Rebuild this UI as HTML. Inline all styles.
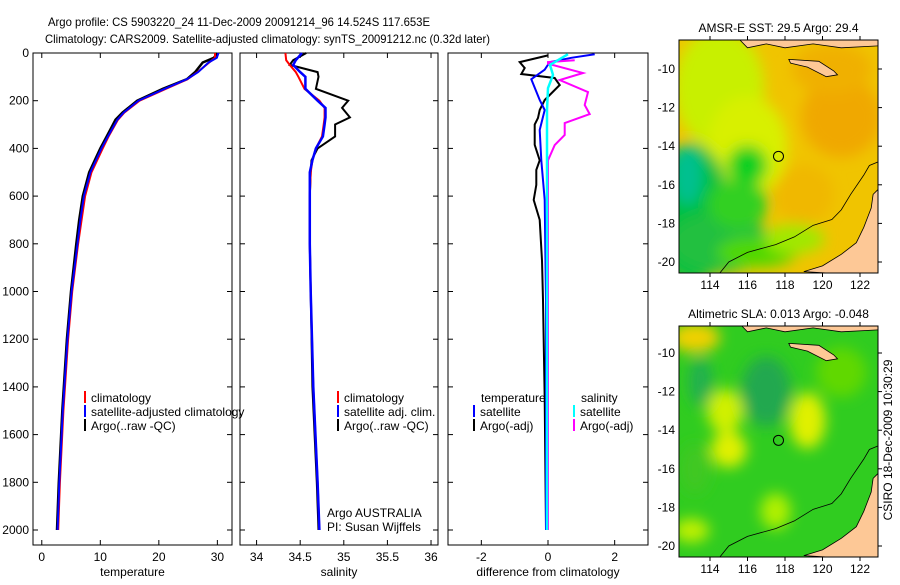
<!DOCTYPE html>
<html><head><meta charset="utf-8"><style>
body{margin:0;background:#fff;width:900px;height:580px;overflow:hidden}
svg text{font-family:"Liberation Sans",sans-serif;font-size:12px;fill:#000}
</style></head><body>
<svg id="c" width="900" height="580" xmlns="http://www.w3.org/2000/svg">
<text x="48" y="26" textLength="382" lengthAdjust="spacingAndGlyphs">Argo profile: CS 5903220_24 11-Dec-2009 20091214_96 14.524S 117.653E</text>
<text x="45" y="43" textLength="445" lengthAdjust="spacingAndGlyphs">Climatology: CARS2009. Satellite-adjusted climatology: synTS_20091212.nc (0.32d later)</text>
<text x="892" y="440" text-anchor="middle" transform="rotate(-90 892 440)">CSIRO 18-Dec-2009 10:30:29</text>
</svg>
<script>
const NS='http://www.w3.org/2000/svg';
const svg=document.getElementById('c');
// ---- data ----
const tempDepth=[0,20,40,80,110,150,200,250,280,350,400,500,600,700,800,1000,1200,1500,1800,2000];
const tempClim=[29.6,29.6,28.6,26.6,24.9,21.2,16.7,14.1,13.0,11.4,10.4,8.5,7.4,6.8,6.2,5.2,4.5,3.7,3.1,2.8];
const tempSat=[30.2,29.9,28.5,26.7,24.8,21.0,16.5,14.0,12.9,11.3,10.2,8.3,7.2,6.6,6.1,5.1,4.4,3.6,3.0,2.7];
const tempArgo=[30.0,29.4,27.5,26.2,24.8,20.7,16.3,13.8,12.6,11.1,10.0,8.1,7.0,6.4,5.9,5.0,4.3,3.5,2.9,2.6];
const salDepth=[0,30,50,80,100,150,200,230,270,300,350,400,450,500,600,800,1000,1400,1800,2000];
const salClim=[34.33,34.34,34.38,34.45,34.48,34.55,34.72,34.78,34.78,34.77,34.75,34.68,34.64,34.62,34.61,34.61,34.62,34.65,34.70,34.72];
const salSat=[34.52,34.45,34.42,34.50,34.56,34.56,34.70,34.79,34.79,34.78,34.76,34.68,34.64,34.61,34.61,34.61,34.62,34.65,34.70,34.72];
const salArgo=[34.57,34.42,34.38,34.70,34.71,34.68,35.05,34.98,35.07,34.90,34.90,34.70,34.63,34.62,34.61,34.61,34.62,34.64,34.69,34.71];
const dTempArgoD=[10,38,63,88,105,134,197,239,272,300,385,450,490,553,616,700,870,1036,1450,2000];
const dTempArgo=[0,-0.85,-0.7,-0.8,0.2,0.35,-0.1,-0.25,-0.3,-0.4,-0.4,-0.25,-0.35,-0.35,-0.43,-0.25,-0.18,-0.15,-0.1,-0.06];
const dTempSatD=[5,20,38,70,110,197,239,323,450,616,1036,2000];
const dTempSat=[1.4,0.7,0.05,-0.1,-0.5,-0.25,-0.1,-0.25,-0.2,-0.1,-0.06,-0.06];
const dSalSatD=[5,50,92,147,239,2000];
const dSalSat=[0.6,0.06,0.15,0,-0.03,-0.03];
const dSalArgoD=[30,38,45,84,113,164,218,256,294,344,386,450,2000];
const dSalArgo=[0.8,0,0,1.05,0.35,1.2,1.1,1.25,0.5,0.5,0.2,0,0];
const depthTicks=[0,200,400,600,800,1000,1200,1400,1600,1800,2000];
const tempTicks=[0,10,20,30];
const salTicks=[34,34.5,35,35.5,36];
const diffTicks=[-2,0,2];
const latTicks=[-10,-12,-14,-16,-18,-20];
const lonTicks=[114,116,118,120,122];
// ---- helpers ----
function el(t,a,p){const e=document.createElementNS(NS,t);for(const k in a)e.setAttribute(k,a[k]);(p||svg).appendChild(e);return e;}
const yTop=53,yBot=545;
const yD=d=>yTop+d*(530-53)/2000;
const panels=[
 {x0:33,x1:232,lo:-1.5,hi:32.5,ticks:tempTicks,lab:'temperature',name:'temperature-panel'},
 {x0:240,x1:438,lo:33.81,hi:36.08,ticks:salTicks,lab:'salinity',name:'salinity-panel'},
 {x0:448,x1:648,lo:-3.0,hi:3.0,ticks:diffTicks,lab:'difference from climatology',name:'difference-panel'}];
panels.forEach(p=>{p.sx=v=>p.x0+(v-p.lo)/(p.hi-p.lo)*(p.x1-p.x0);});
panels.forEach((p,i)=>{
 const g=el('g',{});
 
 
 el('rect',{x:p.x0,y:yTop,width:p.x1-p.x0,height:yBot-yTop,fill:'none',stroke:'#000','stroke-width':1},g);
 p.ticks.forEach(t=>{const x=p.sx(t);
  el('line',{x1:x,x2:x,y1:yBot,y2:yBot-5,stroke:'#000'},g);
  el('line',{x1:x,x2:x,y1:yTop,y2:yTop+5,stroke:'#000'},g);
  const tx=el('text',{x:x,y:yBot+16,'text-anchor':'middle'},g);tx.textContent=t;
  
  });
 depthTicks.forEach(d=>{const y=yD(d);
  el('line',{x1:p.x0,x2:p.x0+5,y1:y,y2:y,stroke:'#000'},g);
  el('line',{x1:p.x1,x2:p.x1-5,y1:y,y2:y,stroke:'#000'},g);
  if(i==0){const tx=el('text',{x:p.x0-4,y:y+4,'text-anchor':'end'},g);tx.textContent=d;
   
   }});
 const xl=el('text',{x:(p.x0+p.x1)/2,y:576,'text-anchor':'middle'},g);xl.textContent=p.lab;
 
 
});
function line(p,ds,vs,col,name,w){
 const pts=ds.map((d,k)=>p.sx(vs[k]).toFixed(1)+','+yD(d).toFixed(1)).join(' ');
 const l=el('polyline',{points:pts,fill:'none',stroke:col,'stroke-width':w||2});
 
 
}
line(panels[0],tempDepth,tempArgo,'#000','temp-argo-line',2.5);
line(panels[0],tempDepth,tempClim,'#f00','temp-climatology-line');
line(panels[0],tempDepth,tempSat,'#00f','temp-satellite-line');
line(panels[1],salDepth,salArgo,'#000','sal-argo-line');
line(panels[1],salDepth,salClim,'#f00','sal-climatology-line');
line(panels[1],salDepth,salSat,'#00f','sal-satellite-line',2.5);
line(panels[2],dTempArgoD,dTempArgo,'#000','dtemp-argo-line');
line(panels[2],dTempSatD,dTempSat,'#00f','dtemp-satellite-line');
line(panels[2],dSalArgoD,dSalArgo,'#f0f','dsal-argo-line');
line(panels[2],dSalSatD,dSalSat,'#0ff','dsal-satellite-line',2.5);
function legend(x,y,col,txt){
 const g=el('g',{});
 
 
 el('rect',{x:x,y:y-11,width:2,height:12,fill:col},g);
 const t=el('text',{x:x+7,y:y},g);t.textContent=txt;
}
legend(84,402,'#f00','climatology');legend(84,416,'#00f','satellite-adjusted climatology');legend(84,430,'#000','Argo(..raw -QC)');
legend(337,402,'#f00','climatology');legend(337,416,'#00f','satellite adj. clim.');legend(337,430,'#000','Argo(..raw -QC)');
let tt=el('text',{x:481,y:402});tt.textContent='temperature';
legend(473,416,'#00f','satellite');legend(473,430,'#000','Argo(-adj)');
tt=el('text',{x:581,y:402});tt.textContent='salinity';
legend(573,416,'#0ff','satellite');legend(573,430,'#f0f','Argo(-adj)');
tt=el('text',{x:327,y:517});tt.textContent='Argo AUSTRALIA';
tt=el('text',{x:327,y:531});tt.textContent='PI: Susan Wijffels';
// ---- maps ----
const defs=el('defs',{});
const f=el('filter',{id:'bl',x:'-50%',y:'-50%',width:'200%',height:'200%'},defs);
el('feGaussianBlur',{stdDeviation:7},f);
// blobs: lon, lat, rx(px), ry(px), colour
const maps=[
 {x0:679,x1:878,y0:40,y1:273,lat10:69,lat20:262,title:'AMSR-E SST: 29.5  Argo: 29.4',name:'sst-map',base:'#f0c400',
  blobs:[[114.5,-11,45,60,'#c8f000'],[116,-14,40,50,'#d8f000'],[113,-17.5,40,70,'#00c040'],[114.5,-19,50,30,'#20c040'],[112.8,-15.5,15,30,'#00c090'],[116,-15,20,20,'#10d020'],[115.5,-17,30,25,'#30d020'],[116.5,-19.5,40,15,'#50d800'],[118.5,-18.8,30,15,'#a0e800'],[121,-12.5,40,40,'#f0a800'],[120.5,-10,40,25,'#f0b000'],[119,-16.5,30,30,'#f0b800']]},
 {x0:679,x1:878,y0:326,y1:557,lat10:353,lat20:546,title:'Altimetric SLA: 0.013  Argo: -0.048',name:'sla-map',base:'#30cc20',
  blobs:[[113.2,-9.2,25,15,'#f0d000'],[114.8,-13,18,22,'#d0f000'],[115,-15,18,18,'#e0f000'],[119.2,-13.5,18,28,'#e0f000'],[117.5,-18.2,15,18,'#b0f000'],[113,-19.2,18,12,'#c0f000'],[117,-12,25,35,'#20a850'],[113.5,-11.5,12,25,'#20b050'],[121,-11,25,25,'#60d800'],[113.2,-16,15,25,'#40c820']]}];
maps.forEach((m,i)=>{
 const g=el('g',{});
 
 
 const cp=el('clipPath',{id:'cp'+i},defs);
 el('rect',{x:m.x0,y:m.y0,width:m.x1-m.x0,height:m.y1-m.y0},cp);
 const inner=el('g',{'clip-path':'url(#cp'+i+')'},g);
 el('rect',{x:m.x0,y:m.y0,width:m.x1-m.x0,height:m.y1-m.y0,fill:m.base},inner);
 const lx=lo=>710+(lo-114)*(860-710)/8;
 const ly=la=>m.lat10+(-10-la)*(m.lat20-m.lat10)/10;
 const bg=el('g',{filter:'url(#bl)'},inner);
 m.blobs.forEach(b=>el('ellipse',{cx:lx(b[0]),cy:ly(b[1]),rx:b[2],ry:b[3],fill:b[4]},bg));
 const poly=(arr,fill)=>el('polygon',{points:arr.map(a=>lx(a[0]).toFixed(1)+','+ly(a[1]).toFixed(1)).join(' '),fill:fill,stroke:'#000','stroke-width':0.8},inner);
 poly([[120.8,-20.6],[123,-20.6],[123,-16.2],[122.7,-16.5],[122.6,-17.2],[122.2,-18.2],[121.8,-19.0],[121,-19.6],[120,-20.2],[119,-20.5]],'#fdc896');
 poly([[118.2,-9.5],[119.8,-9.6],[120.6,-10.1],[120.8,-10.3],[120.2,-10.4],[119.2,-9.9],[118.3,-9.7]],'#fdc896');
 poly([[115.5,-8.4],[123,-8.4],[123,-8.8],[121,-8.9],[119.5,-8.7],[118,-8.9],[117,-8.7],[116,-8.9]],'#fdc896');
 el('polyline',{points:[[114.5,-20.6],[115,-20],[116,-19.5],[117.5,-19.1],[118.5,-18.7],[119.5,-18.1],[120.5,-17.8],[121,-17.3],[121.5,-16.5],[122.2,-15.5],[122.5,-15.0],[123,-14.8]].map(a=>lx(a[0])+','+ly(a[1])).join(' '),fill:'none',stroke:'#000','stroke-width':0.8},inner);
 el('rect',{x:m.x0,y:m.y0,width:m.x1-m.x0,height:m.y1-m.y0,fill:'none',stroke:'#000'},g);
 const c=el('circle',{cx:lx(117.653),cy:ly(-14.524),r:5,fill:'none',stroke:'#000'},g);
 
 
 latTicks.forEach(la=>{const y=ly(la);
  el('line',{x1:m.x1,x2:m.x1+4,y1:y,y2:y,stroke:'#000'},g);
  const t=el('text',{x:m.x0-4,y:y+4,'text-anchor':'end'},g);t.textContent=la;});
 lonTicks.forEach(lo=>{const x=lx(lo);
  el('line',{x1:x,x2:x,y1:m.y0,y2:m.y0-4,stroke:'#000'},g);
  el('line',{x1:x,x2:x,y1:m.y1,y2:m.y1+4,stroke:'#000'},g);
  const t=el('text',{x:x,y:m.y1+16,'text-anchor':'middle'},g);t.textContent=lo;});
 const t=el('text',{x:(m.x0+m.x1)/2,y:m.y0-8,'text-anchor':'middle'},g);t.textContent=m.title;
 
 
});
</script>
</body></html>
